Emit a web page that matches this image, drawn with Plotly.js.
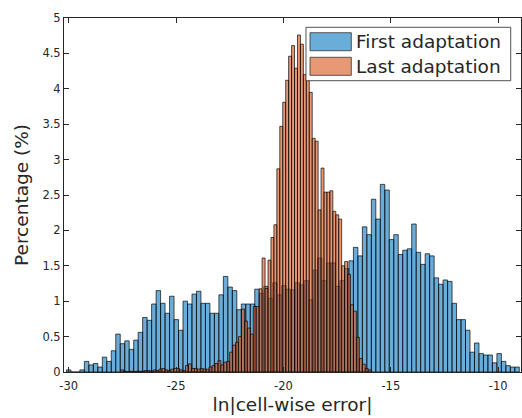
<!DOCTYPE html>
<html><head><meta charset="utf-8">
<script src="https://cdn.plot.ly/plotly-3.0.1.min.js"></script>
<style>html,body{margin:0;padding:0;background:#fff;}#chart{width:522px;height:418px;}</style>
</head><body><div id="chart"></div>
<script>
// ---- data ----
const seriesNames = ['First adaptation', 'Last adaptation'];

// First adaptation histogram: bin edges start + width, percentages per bin
const firstBinStart = -30.107;
const firstBinWidth = 0.2088;
const firstValues = [
  0.03, 0, 0, 0.03, 0.15, 0.10, 0.12, 0.07, 0.21, 0.15,
  0.30, 0.535, 0.40, 0.44, 0.32, 0.45, 0.56, 0.77, 0.73, 0.96,
  1.15, 0.97, 0.83, 1.07, 0.74, 0.59, 1.00, 0.96, 1.10, 1.14,
  0.97, 0.97, 0.83, 0.83, 1.09, 1.35, 1.20, 1.15, 0.88, 0.96,
  0.96, 0.96, 1.17, 1.11, 1.21, 1.04, 1.26, 1.09, 1.22, 1.17,
  1.16, 1.26, 1.23, 1.29, 1.02, 1.44, 1.61, 1.29, 1.54, 1.54,
  1.21, 1.29, 1.46, 1.57, 1.76, 1.64, 2.05, 1.94, 2.44, 2.16,
  2.65, 2.57, 1.87, 1.94, 1.66, 1.72, 1.74, 2.09, 1.69, 1.52,
  1.67, 1.64, 1.33, 1.24, 1.30, 1.28, 0.97, 0.74, 0.74, 0.59,
  0.28, 0.41, 0.26, 0.24, 0.24, 0.13, 0.26, 0.15, 0.09, 0.07,
  0.07
];

// Last adaptation histogram
const lastBinStart = -27.58;
const lastBinWidth = 0.1372;
const lastValues = [
  0.03, 0.01, 0.00, 0.01, 0.00, 0.01, 0.01, 0.01, 0.02, 0.02,
  0.01, 0.03, 0.02, 0.04, 0.05, 0.03, 0.02, 0.04, 0.05, 0.05,
  0.03, 0.02, 0.09, 0.115, 0.05, 0.05, 0.04, 0.05, 0.04, 0.04,
  0.07, 0.09, 0.12, 0.16, 0.10, 0.14, 0.15, 0.28, 0.38, 0.42,
  0.50, 0.89, 0.72, 0.62, 0.535, 0.925, 0.925, 1.175, 1.61, 1.18,
  1.58, 1.90, 2.08, 2.87, 3.47, 3.81, 4.12, 4.46, 4.61, 4.29,
  4.76, 4.63, 4.20, 4.15, 3.95, 3.30, 3.26, 2.29, 2.88, 2.54,
  2.54, 2.56, 2.27, 2.22, 2.16, 1.50, 1.56, 1.38, 0.95, 0.86,
  0.49, 0.19, 0.11, 0.05, 0.03
];

const xTickVals = [-30, -25, -20, -15, -10];
const xTickText = ['-30', '-25', '-20', '-15', '-10'];
const yTickVals = [0, 0.5, 1, 1.5, 2, 2.5, 3, 3.5, 4, 4.5, 5];
const yTickText = ['0', '0.5', '1', '1.5', '2', '2.5', '3', '3.5', '4', '4.5', '5'];
const xLabel = 'ln|cell-wise error|';
const yLabel = 'Percentage (%)';

// ---- build ----
function centers(start, w, n) { return Array.from({length: n}, (_, i) => start + (i + 0.5) * w); }

const blueFill = 'rgba(0,114,189,0.58)';
const orangeFill = 'rgba(217,83,25,0.6)';
const ink = '#262626';
const font = 'DejaVu Sans, sans-serif';

const traces = [
  {type: 'bar', name: seriesNames[0], x: centers(firstBinStart, firstBinWidth, firstValues.length), y: firstValues,
   width: firstBinWidth, marker: {color: blueFill, line: {color: 'rgba(0,0,0,0.85)', width: 0.8}}, hoverinfo: 'x+y'},
  {type: 'bar', name: seriesNames[1], x: centers(lastBinStart, lastBinWidth, lastValues.length), y: lastValues,
   width: lastBinWidth, marker: {color: orangeFill, line: {color: 'rgba(0,0,0,0.85)', width: 0.8}}, hoverinfo: 'x+y'}
];

const axisCommon = {showline: true, linecolor: ink, linewidth: 1, mirror: 'ticks', ticks: 'inside', ticklen: 5,
  tickcolor: ink, tickwidth: 1, showgrid: false, zeroline: false, tickfont: {family: font, size: 11.5, color: ink}};

const layout = {
  width: 522, height: 418,
  margin: {l: 64, r: 1, t: 18, b: 46},
  paper_bgcolor: '#fff', plot_bgcolor: '#fff',
  barmode: 'overlay', bargap: 0, showlegend: false,
  font: {family: font, color: ink},
  xaxis: Object.assign({}, axisCommon, {range: [-30.22, -8.94], tickmode: 'array', tickvals: xTickVals, ticktext: xTickText,
    ticklabelstandoff: 3,
    title: {text: xLabel, font: {family: font, size: 18.5, color: ink}, standoff: 6}, automargin: false}),
  yaxis: Object.assign({}, axisCommon, {range: [0, 5], tickmode: 'array', tickvals: yTickVals, ticktext: yTickText,
    title: {text: yLabel, font: {family: font, size: 18.5, color: ink}, standoff: 8}, automargin: false}),
  shapes: [
    {type: 'rect', xref: 'paper', yref: 'paper', x0: 0.5295, x1: 0.9775, y0: 0.8229, y1: 0.9737,
     fillcolor: '#ffffff', line: {color: ink, width: 0.8}, layer: 'above'},
    {type: 'rect', xref: 'paper', yref: 'paper', x0: 0.5383, x1: 0.6287, y0: 0.9076, y1: 0.9585,
     fillcolor: blueFill, line: {color: '#333333', width: 0.8}, layer: 'above'},
    {type: 'rect', xref: 'paper', yref: 'paper', x0: 0.5383, x1: 0.6287, y0: 0.8381, y1: 0.8890,
     fillcolor: orangeFill, line: {color: '#333333', width: 0.8}, layer: 'above'}
  ],
  annotations: [
    {xref: 'paper', yref: 'paper', x: 0.6346, y: 0.9331, xanchor: 'left', yanchor: 'middle', showarrow: false,
     text: seriesNames[0], font: {family: font, size: 18.5, color: ink}},
    {xref: 'paper', yref: 'paper', x: 0.6346, y: 0.8636, xanchor: 'left', yanchor: 'middle', showarrow: false,
     text: seriesNames[1], font: {family: font, size: 18.5, color: ink}}
  ]
};

Plotly.newPlot('chart', traces, layout, {displayModeBar: false, staticPlot: true});
</script>
</body></html>
